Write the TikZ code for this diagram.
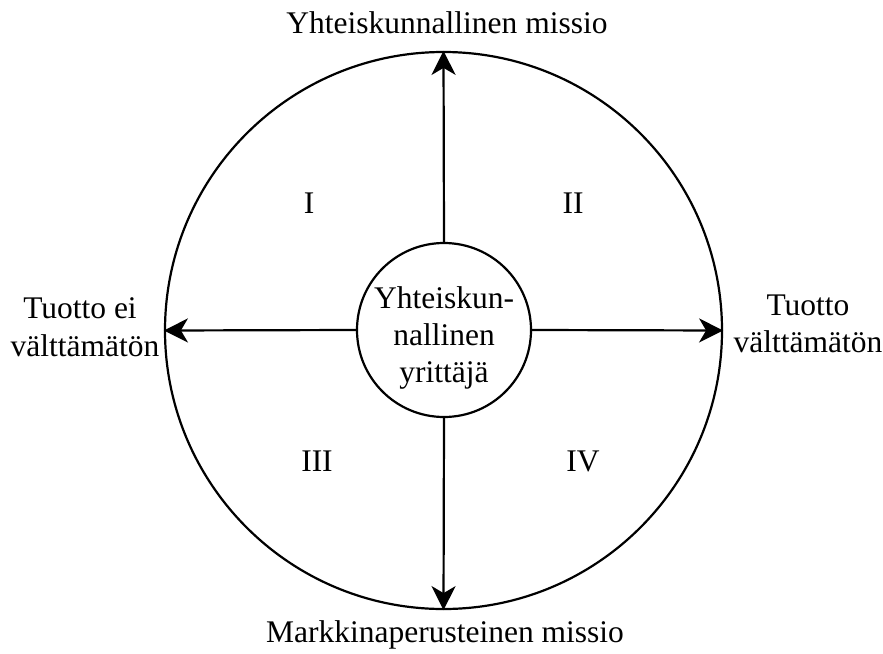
\documentclass[tikz,border=0pt]{standalone}
\usepackage{fontspec}
\setmainfont{Liberation Serif}
\usetikzlibrary{arrows.meta}
\begin{document}
\begin{tikzpicture}[x=1pt,y=-1pt,
  lbl/.style={font=\fontsize{31.5}{37}\selectfont, inner sep=0pt, anchor=base},
  axis/.style={line width=2.2pt, -{Stealth[length=24pt 0, width=24pt 0, inset=7pt 0]}},
  ring/.style={circle, draw, line width=2.2pt, inner sep=0pt}]
\useasboundingbox (0,0) rectangle (883,653);
\node[ring, minimum size=557pt] (big) at (443.5,330.5) {};
\node[ring, minimum size=174pt] (hub) at (444,330) {};
\draw[axis] (hub.north) -- (big.north);
\draw[axis] (hub.south) -- (big.south);
\draw[axis] (hub.west) -- (big.west);
\draw[axis] (hub.east) -- (big.east);
\node[lbl] (c1) at (444,308) {Yhteiskun-};
\node[lbl] (c2) at (444,345) {nallinen};
\node[lbl] (c3) at (444,382) {yrittäjä};
\node[lbl] (top) at (447,33) {Yhteiskunnallinen missio};
\node[lbl] (bot) at (445,642) {Markkinaperusteinen missio};
\node[lbl] (l1) at (80,318) {Tuotto ei};
\node[lbl] (l2) at (85,356) {välttämätön};
\node[lbl] (r1) at (808,315) {Tuotto};
\node[lbl] (r2) at (808,352) {välttämätön};
\node[lbl] (q1) at (309,213) {I};
\node[lbl] (q2) at (573,213) {II};
\node[lbl] (q3) at (317,471) {III};
\node[lbl] (q4) at (583,471) {IV};
\end{tikzpicture}
\end{document}
